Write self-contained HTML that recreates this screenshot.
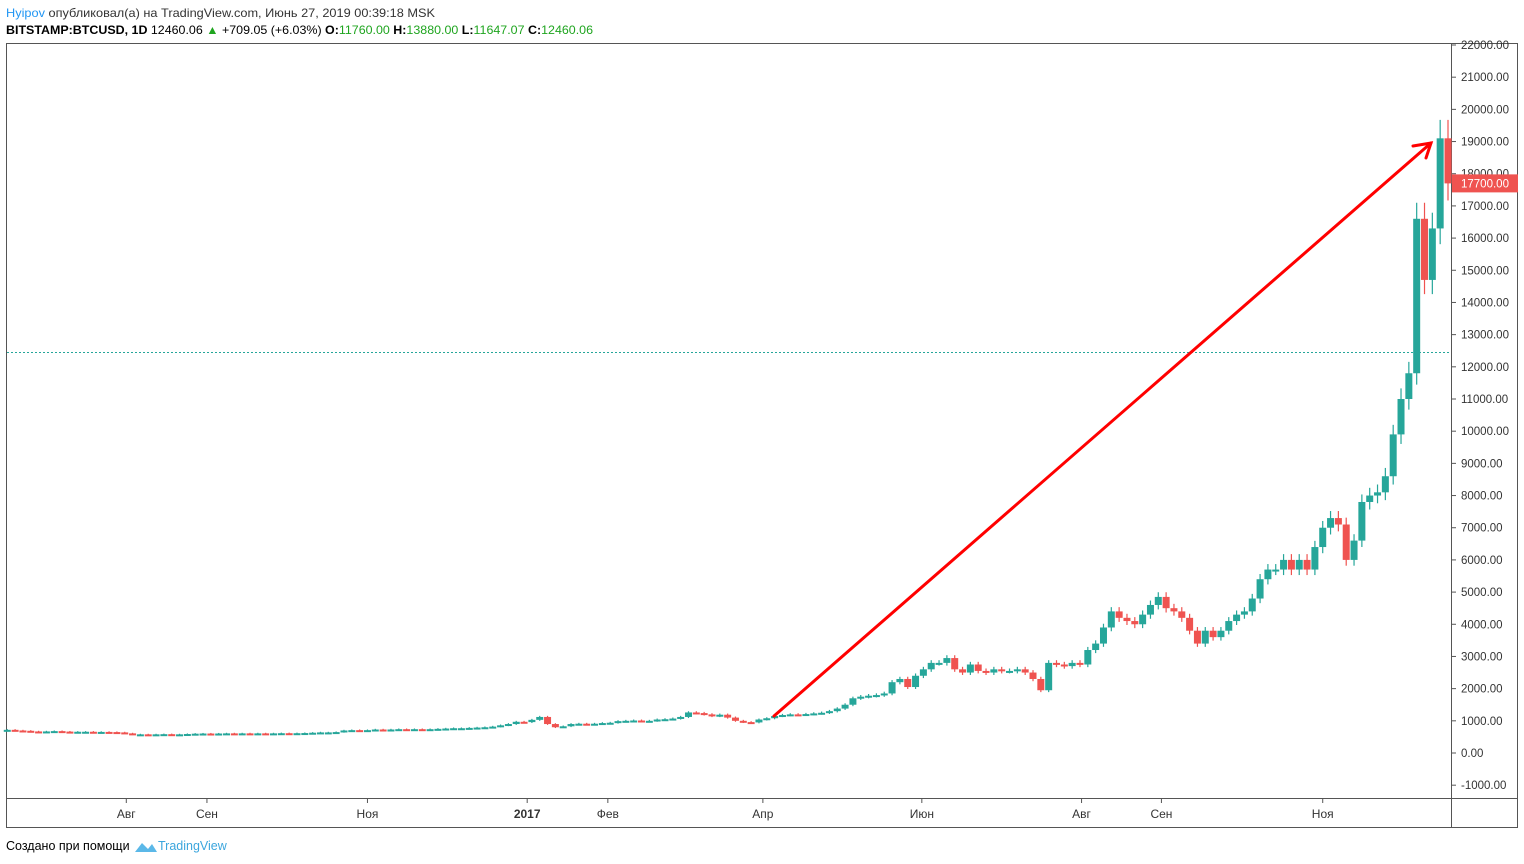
<!DOCTYPE html>
<html><head><meta charset="utf-8"><style>
body{margin:0;background:#fff;width:1524px;height:864px;overflow:hidden;font-family:"Liberation Sans",sans-serif;}
svg{position:absolute;left:0;top:0}
</style></head><body>
<svg id="c" width="1524" height="864">
<text x="6" y="17" font-size="12" fill="#333" textLength="429" lengthAdjust="spacingAndGlyphs"><tspan fill="#2196f3">Hyipov</tspan> опубликовал(а) на TradingView.com, Июнь 27, 2019 00:39:18 MSK</text>
<text x="6" y="34" font-size="12" fill="#000" textLength="587" lengthAdjust="spacingAndGlyphs"><tspan font-weight="bold">BITSTAMP:BTCUSD, 1D</tspan> 12460.06 <tspan fill="#1fa51f">▲</tspan> +709.05 (+6.03%) <tspan font-weight="bold">O:</tspan><tspan fill="#1fa51f">11760.00</tspan> <tspan font-weight="bold">H:</tspan><tspan fill="#1fa51f">13880.00</tspan> <tspan font-weight="bold">L:</tspan><tspan fill="#1fa51f">11647.07</tspan> <tspan font-weight="bold">C:</tspan><tspan fill="#1fa51f">12460.06</tspan></text>
<rect x="6.5" y="43.5" width="1511" height="784" fill="none" stroke="#555"/>
<line x1="6" y1="798.5" x2="1517" y2="798.5" stroke="#555"/>
<line x1="1451.5" y1="43" x2="1451.5" y2="827" stroke="#555"/>
<g id="yax"></g><g id="xax"></g><g id="candles"></g>
<line x1="7" y1="0" x2="1451" y2="0" id="curline" stroke="#26a69a" stroke-dasharray="2,2"/>
<g stroke="#f00" stroke-width="3" fill="none" stroke-linecap="round">
<line x1="774" y1="716" x2="1431" y2="143"/>
<polyline points="1413,146 1431,143 1426,158"/>
</g>
<g id="lastlabel"></g>
<text x="6" y="850" font-size="12.5" fill="#000">Создано при помощи</text>
<g><path d="M135,852 L142,843 L148,849 L152,844 L157,852 Z" fill="#5bb8e8"/></g>
<text x="158" y="850" font-size="12.5" fill="#3ca6dd">TradingView</text>
</svg>
<script>
const closes=[720,700,690,670,660,670,680,665,655,660,660,650,655,650,640,
610,575,
580,575,580,585,575,580,590,600,605,600,605,610,600,610,605,610,600,610,615,610,615,620,630,640,
640,650,700,710,700,710,730,710,730,740,730,740,730,740,750,
760,770,770,780,790,800,820,860,900,970,
960,1030,1120,900,800,830,900,910,900,910,930,
940,990,1000,1010,990,1000,1040,1050,1070,1120,
1260,1240,1200,1150,1190,1100,1000,960,950,
1040,1080,1150,1180,1200,1190,1210,1230,1250,1300,1380,
1500,1700,1750,1780,1800,1850,2200,2300,2050,2400,2600,2800,2800,2950,
2600,2500,2750,2550,2500,2600,2550,2550,2600,2500,2300,1950,2800,2750,2700,2800,2750,
3200,3400,3900,4400,4200,4100,4000,4300,4600,4850,4500,4400,4200,3800,3400,3800,3600,3800,4100,4300,4400,4800,
5400,5700,5700,6000,5700,6000,5700,6400,7000,7300,7100,6000,6600,7800,8000,8100,8600,9900,
11000,11800,16600,14700,16300,19100,17700];
const yTicks=[22000,21000,20000,19000,18000,17000,16000,15000,14000,13000,12000,11000,10000,9000,8000,7000,6000,5000,4000,3000,2000,1000,0,-1000];
const xLabels=["Авг","Сен","Ноя","2017","Фев","Апр","Июн","Авг","Сен","Ноя"];
const xLabelIdx=[15.2,25.5,46,66.4,76.7,96.5,116.8,137.2,147.4,168];
const lastPrice=17700, currentLine=12460.06;
const NS="http://www.w3.org/2000/svg";
const y=v=>753-v*(708/22000);
const step=7.83, x=i=>1448-step*(closes.length-1-i);
function mk(t,a,p){const e=document.createElementNS(NS,t);for(const k in a)e.setAttribute(k,a[k]);p.appendChild(e);return e;}
const ya=document.getElementById('yax');
yTicks.forEach(v=>{
 const l=mk('line',{x1:1451,x2:1456,y1:y(v),y2:y(v),stroke:'#555'},ya);
 
 
 const t=mk('text',{x:1461,y:y(v)+4,'font-size':11.5,fill:'#333'},ya);
 
 
 t.textContent=v.toFixed(2);
});
const xa=document.getElementById('xax');
xLabels.forEach((s,k)=>{
 const xx=x(xLabelIdx[k]);
 const l=mk('line',{x1:xx,x2:xx,y1:798,y2:803,stroke:'#555'},xa);
 
 
 const t=mk('text',{x:xx,y:818,'font-size':12,fill:'#333','text-anchor':'middle','font-weight':s==='2017'?'bold':'normal'},xa);
 
 
 t.textContent=s;
});
const cg=document.getElementById('candles');
closes.forEach((c,i)=>{
 const o=i?closes[i-1]:c;
 const up=c>=o, col=up?'#26a69a':'#ef5350';
 const hi=Math.max(o,c)*1.03, lo=Math.min(o,c)*0.97;
 const g=mk('g',{},cg);
 
 
 mk('line',{x1:x(i),x2:x(i),y1:y(hi),y2:y(lo),stroke:col,'stroke-width':1.2},g);
 const top=y(Math.max(o,c)), h=Math.max(2,Math.abs(y(o)-y(c)));
 mk('rect',{x:x(i)-3.5,y:top,width:7,height:h,fill:col},g);
});
const cl=document.getElementById('curline');cl.setAttribute('y1',y(currentLine)+.5);cl.setAttribute('y2',y(currentLine)+.5);
const ll=document.getElementById('lastlabel');
const r=mk('rect',{x:1452,y:y(lastPrice)-9,width:66,height:18,fill:'#ef5350'},ll);


const lt=mk('text',{x:1461,y:y(lastPrice)+4,'font-size':11.5,fill:'#fff'},ll);


lt.textContent=lastPrice.toFixed(2);
</script>
</body></html>
